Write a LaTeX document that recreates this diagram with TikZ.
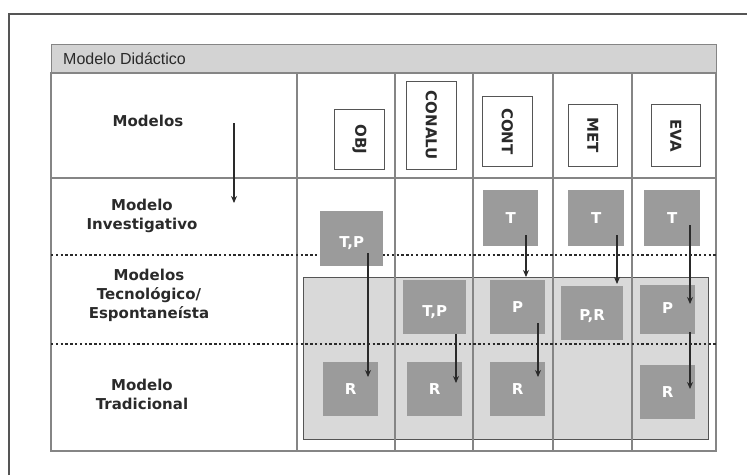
\documentclass[tikz,border=0pt]{standalone}
\usepackage{fontspec}
\setmainfont{DejaVu Sans}
\newfontfamily\titlefont{Liberation Sans}
\usetikzlibrary{arrows.meta}
\definecolor{gridc}{HTML}{858585}
\definecolor{framec}{HTML}{555555}
\definecolor{titlefill}{HTML}{D3D3D3}
\definecolor{darkbox}{HTML}{9B9B9B}
\definecolor{lightreg}{HTML}{D9D9D9}
\definecolor{inkc}{HTML}{2A2A2A}
\tikzset{
  gridline/.style={draw=gridc, line width=1.3pt},
  dotline/.style={draw=inkc, line width=2pt, dash pattern=on 2.3pt off 2.5pt},
  lbl/.style={font=\bfseries\fontsize{15}{19}\selectfont, text=inkc, align=center, inner sep=0pt},
  hbox/.style={draw=framec, line width=0.9pt, fill=white, inner sep=0pt, anchor=north west},
  htext/.style={font=\bfseries\fontsize{15}{17}\selectfont, text=inkc, rotate=-90, inner sep=0pt},
  dbox/.style={fill=darkbox, inner sep=0pt, anchor=north west},
  dtext/.style={font=\bfseries\fontsize{15}{17}\selectfont, text=white, inner sep=0pt},
  arr/.style={draw=inkc, line width=1.1pt, -{Stealth[length=7pt,width=6pt]}},
}
\begin{document}
\begin{tikzpicture}[x=1pt,y=-1pt]
\useasboundingbox (0,0) rectangle (747,475);
% outer frame
\draw[framec, line width=1.5pt] (9,475) -- (9,14) -- (747,14);
% title bar
\node[fill=titlefill, draw=gridc, line width=1.3pt, minimum width=665pt, minimum height=29pt, anchor=north west, inner sep=0pt] (title) at (51,44) {};
\node[font=\titlefont\fontsize{16}{18}\selectfont, text=inkc, anchor=west, inner sep=0pt] (titletext) at (63,58.5) {Modelo Didáctico};
% light region
\node[fill=lightreg, draw=framec, line width=1pt, minimum width=405pt, minimum height=162pt, anchor=north west, inner sep=0pt] (region) at (303,277) {};
% table grid
\draw[gridline] (51,73) rectangle (716,451);
\draw[gridline] (51,178) -- (716,178);
\foreach \cx in {297,395,473,553,632} \draw[gridline] (\cx,73) -- (\cx,451);
\draw[dotline] (51,254.5) -- (716,254.5);
\draw[dotline] (51,344) -- (716,344);
% row labels
\node[lbl] (lmod) at (148,121) {Modelos};
\node[lbl] (linv) at (142,215.5) {Modelo\\Investigativo};
\node[lbl] (ltec) at (149,295) {Modelos\\Tecnológico/\\Espontaneísta};
\node[lbl] (ltra) at (142,394.5) {Modelo\\Tradicional};
\coordinate (ms) at (234,123);
\coordinate (me) at (234,203);
\draw[arr] (ms) -- (me);
% header boxes
\node[hbox, minimum width=50pt, minimum height=60pt] (hobj) at (334,109) {};
\node[htext] at (hobj.center) {OBJ};
\node[hbox, minimum width=50pt, minimum height=88pt] (hcon) at (406,81) {};
\node[htext] at (hcon.center) {CONALU};
\node[hbox, minimum width=50pt, minimum height=70pt] (hcont) at (482,96) {};
\node[htext] at (hcont.center) {CONT};
\node[hbox, minimum width=49pt, minimum height=62pt] (hmet) at (568,104) {};
\node[htext] at (hmet.center) {MET};
\node[hbox, minimum width=49pt, minimum height=62pt] (heva) at (651,104) {};
\node[htext] at (heva.center) {EVA};
% dark boxes row 1
\node[dbox, minimum width=63pt, minimum height=55pt] (b1) at (320,211) {};
\node[dtext] at ([yshift=-4pt]b1.center) {T,P};
\node[dbox, minimum width=55pt, minimum height=56pt] (b2) at (483,190) {};
\node[dtext] at (b2.center) {T};
\node[dbox, minimum width=56pt, minimum height=56pt] (b3) at (568,190) {};
\node[dtext] at (b3.center) {T};
\node[dbox, minimum width=56pt, minimum height=56pt] (b4) at (644,190) {};
\node[dtext] at (b4.center) {T};
% row 2
\node[dbox, minimum width=63pt, minimum height=54pt] (c1) at (403,280) {};
\node[dtext] at ([yshift=-5pt]c1.center) {T,P};
\node[dbox, minimum width=55pt, minimum height=54pt] (c2) at (490,280) {};
\node[dtext] at (c2.center) {P};
\node[dbox, minimum width=62pt, minimum height=54pt] (c3) at (561,286) {};
\node[dtext] at ([yshift=-3pt]c3.center) {P,R};
\node[dbox, minimum width=55pt, minimum height=49pt] (c4) at (640,285) {};
\node[dtext] at ([yshift=2pt]c4.center) {P};
% row 3
\node[dbox, minimum width=55pt, minimum height=54pt] (d1) at (323,362) {};
\node[dtext] at (d1.center) {R};
\node[dbox, minimum width=55pt, minimum height=54pt] (d2) at (407,362) {};
\node[dtext] at (d2.center) {R};
\node[dbox, minimum width=55pt, minimum height=54pt] (d3) at (490,362) {};
\node[dtext] at (d3.center) {R};
\node[dbox, minimum width=55pt, minimum height=54pt] (d4) at (640,365) {};
\node[dtext] at (d4.center) {R};
% arrows
\coordinate (a1s) at (368,253); \coordinate (a1e) at (368,377);
\coordinate (a2s) at (526,235); \coordinate (a2e) at (526,277);
\coordinate (a3s) at (617,235); \coordinate (a3e) at (617,284);
\coordinate (a4s) at (690,225); \coordinate (a4e) at (690,304);
\coordinate (a5s) at (456,334); \coordinate (a5e) at (456,383);
\coordinate (a6s) at (538,323); \coordinate (a6e) at (538,377);
\coordinate (a7s) at (690,332); \coordinate (a7e) at (690,389);
\foreach \k in {1,...,7} \draw[arr] (a\k s) -- (a\k e);
\end{tikzpicture}
\end{document}
